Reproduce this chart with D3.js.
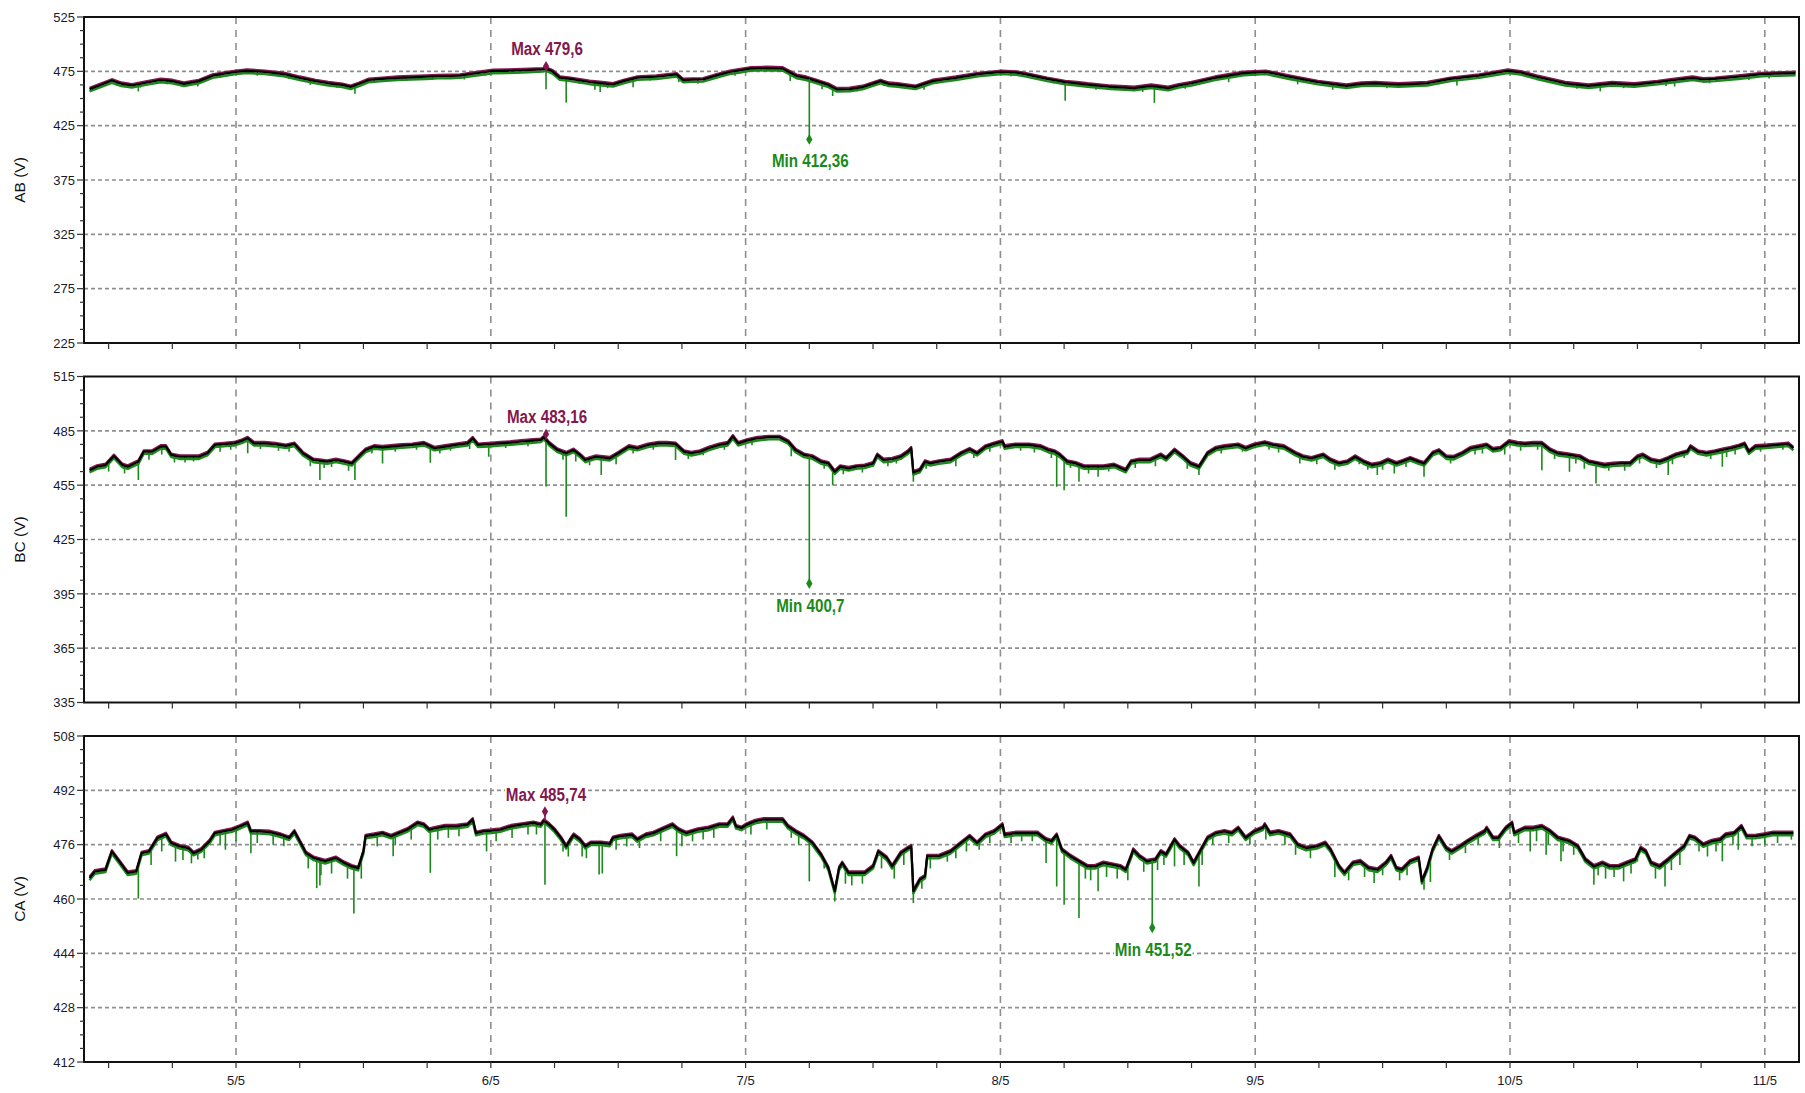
<!DOCTYPE html>
<html>
<head>
<meta charset="utf-8">
<script src="https://cdn.jsdelivr.net/npm/d3@7"></script>
<style>
  body { margin: 0; background: #fff; }
  svg { display: block; }
</style>
</head>
<body>
<svg id="chart" width="1805" height="1093"></svg>
<script>
// ---- Data: hours counted from 4 May 00:00, line-to-line voltages (V) ----

// Mean trace, AB
const abAvg = [
  [10.2,458.6],[11.0,461.5],[12.3,466.5],[13.2,463.5],[14.2,462.0],[15.5,464.5],[16.9,467.0],[18.0,466.0],
  [19.1,463.5],[20.5,466.0],[21.8,471.0],[23.0,473.0],[24.0,474.5],[25.0,475.5],[26.7,474.5],[28.5,472.5],
  [30.0,469.0],[31.5,466.0],[32.7,464.0],[34.0,462.5],[34.8,460.7],[35.6,463.5],[36.5,467.0],[37.8,468.0],
  [39.2,469.0],[40.5,469.5],[41.9,470.0],[43.0,470.5],[44.2,470.7],[45.1,471.0],[46.5,473.0],[48.2,475.3],
  [49.5,475.5],[51.0,476.0],[52.9,476.8],[53.2,477.5],[53.8,475.0],[54.5,469.2],[55.5,468.0],[57.3,465.2],
  [58.5,464.0],[59.5,463.0],[60.5,466.0],[61.8,469.2],[63.6,470.0],[65.5,472.2],[66.1,467.0],[67.0,467.3],
  [68.0,467.6],[69.2,471.0],[70.5,474.4],[71.5,476.0],[72.4,477.5],[74.0,478.0],[75.5,477.5],[76.8,470.7],
  [77.7,469.0],[78.7,466.0],[79.8,462.5],[80.6,458.4],[81.8,458.7],[83.0,460.5],[84.7,466.0],[85.5,463.5],
  [86.3,462.8],[88.0,460.7],[89.6,466.0],[90.7,467.5],[91.8,469.0],[93.9,472.4],[96.1,474.5],[97.5,473.8],
  [98.3,472.4],[100.4,468.0],[102.1,465.0],[103.2,464.0],[104.2,462.8],[106.4,460.7],[108.6,459.6],[110.2,461.7],
  [111.8,459.6],[112.8,462.0],[114.0,464.0],[116.2,469.0],[118.9,473.4],[121.0,474.5],[123.2,470.0],[125.9,465.0],
  [128.6,461.7],[130.0,463.5],[131.3,464.0],[133.5,462.8],[136.2,464.0],[138.4,468.0],[141.1,471.0],[143.8,475.5],
  [145.0,474.0],[146.5,470.0],[149.2,464.0],[151.4,461.7],[153.6,464.0],[155.7,462.8],[157.9,465.0],[159.5,467.0],
  [161.2,469.0],[162.2,467.5],[163.3,468.0],[165.5,470.0],[167.7,472.4],[169.0,472.8],[170.9,473.4]
];
// Drops of the minimum trace, AB
const abDips = [
  [12.8,461.5],[14.8,456.5],[15.0,460.0],[17.5,463.0],[20.4,461.0],[22.5,469.0],[26.0,471.0],[29.0,468.0],
  [31.0,462.5],[33.5,460.0],[35.2,454.4],[37.0,464.5],[40.0,466.0],[42.5,467.0],[45.5,467.5],[47.5,471.0],
  [50.0,472.5],[53.2,458.4],[55.1,446.2],[56.3,463.5],[57.8,458.0],[58.3,456.0],[59.0,459.5],[61.4,460.3],
  [63.0,466.5],[65.7,465.0],[67.5,463.5],[71.0,471.0],[73.5,475.0],[76.2,466.0],[79.2,458.5],[80.2,452.3],
  [82.5,456.5],[85.0,461.5],[87.8,458.6],[88.8,458.0],[93.0,468.5],[97.0,470.5],[101.0,464.0],[102.1,448.0],
  [105.0,458.0],[109.4,456.0],[110.5,446.0],[113.4,459.0],[117.5,465.0],[120.0,470.5],[124.0,463.0],[124.5,466.0],
  [127.3,458.0],[132.4,459.5],[137.3,463.0],[139.0,462.0],[142.5,471.0],[147.8,466.0],[150.3,459.0],[152.5,456.5],
  [154.7,459.5],[158.7,461.5],[159.5,461.0],[162.8,464.0],[166.5,467.0],[168.4,468.5]
];

// Mean trace, BC
const bcAvg = [
  [10.2,463.3],[10.9,465.2],[11.7,466.1],[12.5,471.1],[13.3,466.1],[13.8,465.2],[14.8,468.0],[15.3,473.5],
  [16.1,473.5],[16.9,476.3],[17.4,476.3],[17.9,471.7],[18.7,470.7],[19.7,470.7],[20.5,470.7],[21.3,472.6],
  [22.0,477.2],[23.1,477.8],[23.8,478.1],[24.6,479.6],[25.1,480.9],[25.7,478.1],[26.7,478.1],[27.7,477.6],
  [28.7,476.7],[29.5,477.8],[30.3,472.6],[31.3,468.9],[32.6,468.0],[33.4,468.9],[34.2,468.0],[34.9,467.0],
  [35.7,471.7],[36.2,474.4],[37.0,476.3],[37.8,475.9],[38.6,476.3],[39.3,476.7],[40.6,477.2],[41.7,478.1],
  [42.7,475.4],[43.7,476.3],[44.7,477.2],[45.8,478.1],[46.3,480.9],[46.8,477.2],[47.8,477.6],[48.9,478.1],
  [49.9,478.5],[50.9,479.1],[52.0,479.6],[52.7,480.0],[53.0,481.5],[53.5,478.1],[54.3,474.4],[55.1,472.6],
  [55.8,474.4],[56.4,471.7],[56.9,468.9],[57.9,470.7],[59.2,469.8],[60.0,472.6],[61.0,476.3],[61.8,475.4],
  [62.8,477.2],[63.8,478.1],[64.6,478.1],[65.4,477.8],[66.2,473.5],[66.9,472.6],[67.7,473.5],[68.5,475.4],
  [69.5,477.2],[70.3,478.1],[70.8,481.9],[71.3,478.1],[72.1,479.6],[73.1,480.9],[74.2,481.5],[75.2,481.5],
  [76.0,479.1],[76.7,474.4],[77.5,471.7],[78.3,470.7],[79.1,468.0],[79.8,467.0],[80.4,462.4],[80.9,465.2],
  [81.7,464.3],[82.4,465.2],[83.2,465.6],[84.0,467.0],[84.4,471.7],[85.0,468.9],[85.8,469.3],[86.6,470.7],
  [87.3,473.5],[87.6,475.4],[87.8,462.0],[88.4,463.3],[88.9,468.0],[89.4,467.0],[90.2,468.0],[91.3,468.9],
  [92.3,472.6],[93.1,474.8],[93.8,472.6],[94.6,476.3],[95.4,477.8],[96.2,479.1],[96.4,476.3],[97.4,477.2],
  [98.7,477.2],[99.8,476.3],[100.5,474.4],[101.1,473.5],[101.6,471.7],[102.3,468.0],[103.1,467.0],[103.9,465.2],
  [104.7,465.2],[105.7,465.2],[106.7,466.1],[107.8,463.3],[108.3,468.0],[109.1,468.9],[110.1,468.9],[111.1,471.7],
  [111.6,469.8],[112.4,474.4],[113.2,470.7],[113.9,467.0],[114.7,465.2],[115.5,472.6],[116.3,475.4],[117.1,476.3],
  [118.4,477.2],[119.1,475.4],[119.9,477.2],[120.9,478.5],[121.7,477.2],[122.7,476.3],[123.8,472.6],[124.5,470.7],
  [125.3,469.8],[126.4,471.7],[127.1,468.9],[127.9,467.0],[128.7,468.0],[129.4,470.7],[130.2,468.0],[131.0,466.1],
  [131.8,467.0],[132.5,468.9],[133.3,467.0],[133.8,468.0],[134.6,469.8],[135.4,468.0],[135.9,467.0],[136.7,472.6],
  [137.3,474.1],[138.0,470.7],[138.7,470.4],[139.5,472.6],[140.3,475.4],[141.1,476.3],[141.8,477.2],[142.4,474.8],
  [143.1,475.4],[143.9,479.1],[144.7,478.1],[145.4,477.8],[146.2,478.1],[147.0,478.1],[147.8,474.4],[148.5,472.6],
  [149.6,471.7],[150.6,470.7],[151.4,468.0],[152.2,467.0],[152.9,466.1],[153.7,466.7],[154.5,467.0],[155.3,467.0],
  [156.0,470.7],[156.5,471.7],[157.3,468.9],[158.1,468.0],[158.9,469.8],[159.6,471.7],[160.7,473.5],[161.0,476.3],
  [161.7,473.5],[162.5,472.6],[163.3,473.5],[164.0,474.4],[164.8,475.4],[165.6,476.7],[166.1,477.8],[166.5,473.5],
  [167.1,476.3],[168.2,476.7],[169.2,477.2],[170.2,477.8],[170.7,475.4]
];
// Drops of the minimum trace, BC
const bcDips = [
  [12.0,462.5],[13.5,461.5],[14.8,457.8],[15.8,469.0],[17.0,472.0],[18.2,467.5],[19.2,467.5],[20.0,468.0],
  [22.5,473.5],[23.5,474.5],[25.1,472.6],[26.3,475.0],[28.0,474.0],[29.0,473.5],[31.0,465.5],[31.9,457.8],
  [32.3,464.5],[33.0,465.0],[34.6,463.0],[35.2,457.8],[36.8,472.5],[37.8,467.0],[39.0,473.5],[41.0,474.5],
  [42.3,467.4],[43.2,472.5],[44.2,474.0],[46.0,475.0],[47.8,470.7],[49.4,475.5],[51.5,476.5],[53.2,454.3],
  [54.8,469.0],[55.1,437.6],[56.0,468.0],[57.3,466.0],[58.4,460.6],[59.8,466.5],[61.4,472.5],[63.3,474.5],
  [65.4,468.9],[66.6,469.5],[68.0,471.5],[70.0,474.5],[72.6,477.0],[76.3,471.0],[79.4,464.0],[80.2,455.0],
  [81.2,461.0],[83.0,462.0],[85.4,465.5],[86.2,467.0],[87.8,456.9],[89.0,464.0],[91.8,465.5],[93.5,470.0],
  [95.0,473.5],[97.9,474.0],[99.2,473.0],[100.8,470.0],[101.3,454.1],[102.0,452.2],[102.6,464.5],[103.4,456.9],
  [104.3,461.5],[105.2,459.6],[106.2,462.5],[108.7,464.5],[110.6,465.5],[112.0,470.0],[113.6,464.0],[114.7,460.6],
  [116.8,472.5],[118.8,473.5],[121.3,474.5],[122.2,473.0],[124.2,467.0],[125.8,466.5],[127.5,463.5],[129.8,466.5],
  [130.6,463.5],[131.5,460.6],[132.0,463.5],[133.1,461.5],[134.2,465.0],[135.9,459.6],[136.3,468.0],[138.4,467.0],
  [140.7,472.0],[141.4,472.5],[143.5,472.0],[145.0,474.0],[146.6,474.5],[147.0,463.3],[148.2,469.5],[149.6,462.4],
  [150.2,467.0],[151.0,464.0],[152.1,455.9],[153.3,463.0],[154.8,463.0],[156.2,467.0],[157.8,464.5],[158.9,460.6],
  [159.3,466.5],[160.4,470.0],[162.9,469.5],[164.0,465.2],[164.4,470.5],[165.2,472.0],[167.6,473.5],[169.7,474.5]
];

// Mean trace, CA
const caAvg = [
  [10.2,466.2],[10.7,468.1],[11.7,468.6],[12.3,474.0],[13.0,471.1],[13.8,467.7],[14.6,468.1],[15.1,473.5],
  [15.8,474.0],[16.6,478.0],[17.4,479.1],[17.9,476.5],[18.7,475.5],[19.5,475.0],[20.0,473.5],[20.7,474.5],
  [21.5,477.0],[22.0,479.4],[22.8,479.9],[23.6,480.4],[24.4,481.4],[25.1,482.4],[25.4,479.9],[26.2,479.9],
  [27.2,479.7],[28.2,478.9],[29.0,478.0],[29.5,479.9],[30.0,477.0],[30.6,473.5],[31.3,472.1],[32.4,471.1],
  [33.4,472.1],[34.2,470.6],[34.9,469.6],[35.5,469.1],[36.0,474.0],[36.2,478.5],[37.0,478.9],[37.8,479.4],
  [38.6,478.5],[39.3,479.4],[40.1,480.4],[41.1,482.4],[41.7,481.9],[42.2,480.4],[42.9,480.9],[43.7,481.4],
  [44.7,481.4],[45.8,481.9],[46.3,483.4],[46.6,479.4],[47.3,479.9],[48.1,480.1],[48.9,480.4],[49.9,481.4],
  [50.9,481.9],[52.0,482.4],[52.7,481.9],[53.0,483.1],[53.5,481.9],[54.0,480.4],[54.6,478.0],[55.1,475.5],
  [55.6,478.0],[55.8,478.9],[56.4,477.5],[56.9,475.5],[57.4,476.5],[58.4,476.5],[59.2,476.2],[59.5,478.0],
  [60.2,478.5],[61.3,478.9],[61.8,477.5],[62.6,478.9],[63.3,479.4],[64.4,480.9],[65.1,481.9],[65.7,480.4],
  [66.4,479.4],[67.5,480.4],[68.5,480.9],[69.5,481.9],[70.3,481.9],[70.8,483.9],[71.1,481.4],[71.6,480.9],
  [72.1,481.9],[72.9,482.9],[73.7,483.4],[74.7,483.4],[75.5,483.4],[76.0,481.4],[76.7,479.9],[77.5,478.5],
  [78.3,476.5],[79.1,473.1],[79.8,469.1],[80.4,462.3],[80.8,469.1],[81.1,470.6],[81.7,467.7],[82.4,467.7],
  [83.2,467.7],[84.0,469.6],[84.5,474.0],[85.3,472.1],[85.8,469.6],[86.6,473.5],[87.3,475.0],[87.6,475.5],
  [87.8,462.3],[88.4,465.7],[88.9,466.7],[89.1,472.6],[89.7,472.6],[90.2,472.6],[91.3,474.0],[92.3,476.5],
  [93.1,478.5],[93.8,476.5],[94.6,478.9],[95.4,479.9],[96.2,481.9],[96.4,478.9],[97.4,479.4],[98.5,479.4],
  [99.5,479.4],[100.3,477.5],[100.8,477.0],[101.3,478.9],[101.8,474.5],[102.6,472.6],[103.4,471.1],[104.2,469.6],
  [104.9,469.6],[105.7,470.6],[106.5,470.1],[107.3,469.6],[107.8,468.6],[108.3,472.6],[108.5,474.5],[109.1,472.6],
  [109.8,471.1],[110.6,471.6],[111.1,474.0],[111.6,473.1],[112.4,477.5],[112.9,475.5],[113.7,473.5],[114.2,470.6],
  [114.7,473.5],[115.5,478.0],[116.3,479.4],[117.1,479.9],[117.8,479.4],[118.4,480.9],[119.1,478.0],[119.9,479.9],
  [120.7,480.9],[120.9,481.9],[121.4,479.4],[122.2,479.9],[123.3,478.9],[124.0,476.0],[124.8,475.0],[125.8,475.5],
  [126.6,476.5],[127.1,474.5],[127.9,469.6],[128.4,467.7],[129.2,470.6],[129.9,471.1],[130.7,469.1],[131.5,468.6],
  [132.3,470.6],[132.8,472.6],[133.3,469.1],[133.8,468.6],[134.6,471.1],[135.4,472.1],[135.7,465.2],[136.2,469.1],
  [136.7,474.5],[137.3,478.5],[138.0,475.0],[138.5,474.0],[139.3,475.5],[140.0,477.0],[140.8,478.5],[141.6,479.9],
  [141.8,480.9],[142.4,478.0],[142.9,478.0],[143.6,480.9],[144.2,482.4],[144.4,479.4],[145.4,480.9],[146.2,480.9],
  [147.0,481.4],[147.8,479.9],[148.5,478.0],[149.6,477.0],[150.4,475.5],[151.1,471.6],[151.9,469.6],[152.7,470.6],
  [153.4,469.6],[154.2,469.6],[155.0,470.6],[155.8,471.6],[156.3,475.0],[156.8,474.0],[157.3,470.6],[158.1,469.6],
  [158.9,471.6],[159.6,473.5],[160.4,475.5],[160.9,478.5],[161.4,478.0],[162.2,476.0],[163.0,477.0],[163.8,477.5],
  [164.3,478.9],[165.1,479.4],[165.8,481.4],[166.3,478.5],[167.1,478.5],[167.9,478.9],[168.7,479.4],[169.7,479.4],
  [170.7,479.4]
];
// Drops of the minimum trace, CA
const caDips = [
  [14.8,460.1],[16.0,470.0],[17.0,474.0],[18.3,471.0],[19.0,471.5],[19.8,470.5],[20.4,471.6],[21.0,472.0],
  [22.5,476.0],[23.0,474.5],[24.0,477.0],[25.4,473.5],[26.0,476.5],[27.5,476.0],[28.5,475.5],[30.8,469.0],
  [31.6,463.2],[31.9,464.0],[32.0,467.0],[33.0,467.5],[34.5,466.0],[35.1,455.7],[35.8,466.0],[37.3,475.5],
  [38.8,472.6],[39.0,476.0],[40.5,477.5],[42.3,467.7],[43.0,477.5],[44.0,478.0],[45.0,478.5],[47.6,474.0],
  [48.5,477.0],[50.0,478.0],[51.5,479.0],[52.3,479.0],[53.1,464.2],[54.8,474.0],[55.3,472.5],[56.6,472.5],
  [57.0,472.0],[58.2,467.2],[58.5,467.5],[59.8,474.5],[60.8,475.5],[62.0,475.0],[64.0,477.0],[65.5,472.6],
  [66.0,475.5],[67.0,477.0],[68.0,477.5],[69.0,478.0],[72.5,479.0],[74.0,480.5],[76.3,478.0],[77.0,476.0],
  [78.0,465.2],[79.4,469.0],[80.4,459.3],[81.4,464.5],[82.0,464.0],[83.0,464.5],[84.8,469.0],[86.0,466.0],
  [86.9,470.0],[87.8,458.8],[88.6,463.0],[89.4,469.0],[91.0,471.0],[91.8,472.0],[92.8,474.0],[94.0,474.5],
  [95.0,476.5],[97.0,476.5],[98.0,477.0],[99.0,477.0],[100.3,470.6],[101.3,463.7],[102.0,458.3],[103.4,454.4],
  [104.0,466.0],[104.5,465.5],[105.2,462.3],[106.0,466.5],[107.0,466.0],[108.0,465.5],[109.5,468.0],[110.8,468.5],
  [111.4,470.0],[112.4,469.6],[113.3,470.0],[114.7,463.7],[115.0,470.0],[116.0,476.0],[117.5,476.5],[119.5,476.0],
  [121.0,477.5],[122.8,476.0],[123.8,473.0],[125.2,472.0],[127.5,466.5],[128.8,465.5],[130.3,466.5],[131.2,464.7],
  [132.0,467.0],[133.6,465.5],[134.3,467.0],[135.9,462.7],[136.5,465.0],[138.3,471.5],[139.8,473.5],[141.0,476.0],
  [143.0,475.0],[144.8,476.5],[145.9,474.0],[146.5,477.0],[147.4,473.0],[147.6,476.0],[148.8,471.1],[149.0,474.0],
  [150.0,473.0],[151.9,464.2],[152.3,467.0],[153.0,466.0],[153.8,466.5],[154.7,465.2],[155.4,467.5],[156.0,471.0],
  [157.7,466.0],[158.6,463.7],[159.2,468.5],[160.0,470.0],[161.8,474.0],[162.6,472.5],[163.4,474.0],[164.0,471.1],
  [165.0,476.0],[165.5,474.5],[166.8,475.5],[168.0,476.0],[169.2,476.5],[170.5,477.5]
];

// Recorded extremes (hour, volts)
const abExtremes = { max: [53.2, 479.6], min: [78.0, 412.36] };
const bcExtremes = { max: [53.2, 483.16], min: [78.0, 400.7] };
const caExtremes = { max: [53.1, 485.74], min: [110.3, 451.52] };

// Value-axis tick labels
const abTicks = [225, 275, 325, 375, 425, 475, 525];
const bcTicks = [335, 365, 395, 425, 455, 485, 515];
const caTicks = [412, 428, 444, 460, 476, 492, 508];

// Time axis extent (hours from 4 May 00:00)
const timeExtent = [9.68, 171.22];
const dateFormat = "%-d/%-m";

// ---- Layout ----
const plotLeft = 84, plotRight = 1799, plotHeight = 326;
const panelTops = [17, 376.5, 736];
const colMax = "#82184e", colMin = "#1b8a1b", colMean = "#000";

const base = Date.UTC(2021, 4, 4);
const toDate = h => new Date(base + h * 3600e3);

const svg = d3.select("#chart");
const x = d3.scaleUtc().domain(timeExtent.map(toDate)).range([plotLeft, plotRight]);

const panels = [
  { title: "AB (V)", ticks: abTicks, avg: abAvg, dips: abDips, ext: abExtremes },
  { title: "BC (V)", ticks: bcTicks, avg: bcAvg, dips: bcDips, ext: bcExtremes },
  { title: "CA (V)", ticks: caTicks, avg: caAvg, dips: caDips, ext: caExtremes }
];

const fmtVal = v => String(v).replace(".", ",");
const bis = d3.bisector(d => d[0]).left;
function meanAt(series, h) {
  const i = bis(series, h);
  if (i <= 0) return series[0][1];
  if (i >= series.length) return series[series.length - 1][1];
  const a = series[i - 1], b = series[i];
  return a[1] + (h - a[0]) / (b[0] - a[0]) * (b[1] - a[1]);
}

function label(g, cx, baseline, text, color) {
  const lg = g.append("g").attr("transform", `translate(${cx},${baseline}) scale(0.8,1)`);
  const bg = lg.append("rect").attr("fill", "#fff");
  const t = lg.append("text")
    .attr("text-anchor", "middle")
    .attr("font-family", "'Liberation Sans', Arial, sans-serif")
    .attr("font-weight", "bold")
    .attr("font-size", 19)
    .attr("fill", color)
    .text(text);
  const bb = t.node().getBBox();
  bg.attr("x", bb.x - 1).attr("y", bb.y + 2).attr("width", bb.width + 2).attr("height", bb.height - 4);
}

panels.forEach((p, idx) => {
  const top = panelTops[idx], bottom = top + plotHeight;
  const lo = p.ticks[0], hi = p.ticks[p.ticks.length - 1];
  const y = d3.scaleLinear().domain([lo, hi]).range([bottom, top]);
  const g = svg.append("g");

  const clipId = "clip" + idx;
  svg.append("clipPath").attr("id", clipId)
    .append("rect").attr("x", plotLeft).attr("y", top).attr("width", plotRight - plotLeft).attr("height", plotHeight);

  // horizontal grid
  g.append("g").selectAll("line").data(p.ticks.slice(1, -1)).join("line")
    .attr("x1", plotLeft).attr("x2", plotRight)
    .attr("y1", d => y(d)).attr("y2", d => y(d))
    .attr("stroke", "#8f8f8f").attr("stroke-width", 1.6).attr("stroke-dasharray", "4,3");

  // vertical grid at midnight
  const days = x.ticks(d3.utcDay.every(1));
  g.append("g").selectAll("line").data(days).join("line")
    .attr("x1", d => x(d)).attr("x2", d => x(d))
    .attr("y1", top).attr("y2", bottom)
    .attr("stroke", "#8f8f8f").attr("stroke-width", 1.6).attr("stroke-dasharray", "7,6");

  const plot = g.append("g").attr("clip-path", `url(#${clipId})`);
  const line = d3.line().x(d => x(toDate(d[0]))).y(d => y(d[1]));

  // min envelope
  plot.append("path").datum(p.avg).attr("d", line)
    .attr("transform", "translate(0,2.2)")
    .attr("fill", "none").attr("stroke", colMin).attr("stroke-width", 2.4).attr("stroke-linejoin", "round");
  plot.append("g").selectAll("line").data(p.dips).join("line")
    .attr("x1", d => x(toDate(d[0]))).attr("x2", d => x(toDate(d[0])))
    .attr("y1", d => y(meanAt(p.avg, d[0]))).attr("y2", d => y(d[1]))
    .attr("stroke", colMin).attr("stroke-width", 1.6);
  // max envelope
  plot.append("path").datum(p.avg).attr("d", line)
    .attr("transform", "translate(0,-1.5)")
    .attr("fill", "none").attr("stroke", colMax).attr("stroke-width", 2).attr("stroke-linejoin", "round");
  // mean
  plot.append("path").datum(p.avg).attr("d", line)
    .attr("fill", "none").attr("stroke", colMean).attr("stroke-width", 2.2).attr("stroke-linejoin", "round");

  // extremes
  const [mxH, mxV] = p.ext.max, [mnH, mnV] = p.ext.min;
  const mxX = x(toDate(mxH)), mnX = x(toDate(mnH));
  g.append("line").attr("x1", mxX).attr("x2", mxX)
    .attr("y1", y(meanAt(p.avg, mxH))).attr("y2", y(mxV))
    .attr("stroke", colMax).attr("stroke-width", 1.6);
  g.append("path").attr("d", d3.symbol(d3.symbolDiamond, 34)())
    .attr("transform", `translate(${mxX},${y(mxV)})`).attr("fill", colMax);
  g.append("line").attr("x1", mnX).attr("x2", mnX)
    .attr("y1", y(meanAt(p.avg, mnH))).attr("y2", y(mnV))
    .attr("stroke", colMin).attr("stroke-width", 1.6);
  g.append("path").attr("d", d3.symbol(d3.symbolDiamond, 34)())
    .attr("transform", `translate(${mnX},${y(mnV)})`).attr("fill", colMin);
  label(g, mxX + 1, y(mxV) - 11, "Max " + fmtVal(mxV), colMax);
  label(g, mnX + 1, y(mnV) + 28, "Min " + fmtVal(mnV), colMin);

  // frame
  g.append("rect").attr("x", plotLeft).attr("y", top)
    .attr("width", plotRight - plotLeft).attr("height", plotHeight)
    .attr("fill", "none").attr("stroke", "#111").attr("stroke-width", 2);

  // value axis
  const step = p.ticks[1] - p.ticks[0];
  const minor = d3.range(lo, hi + 1e-9, step / 4);
  g.append("g").selectAll("line").data(minor).join("line")
    .attr("x1", d => (Math.abs((d - lo) % step) < 1e-6 ? plotLeft - 7 : plotLeft - 4)).attr("x2", plotLeft)
    .attr("y1", d => y(d)).attr("y2", d => y(d))
    .attr("stroke", "#333").attr("stroke-width", 1.2);
  g.append("g").selectAll("text").data(p.ticks).join("text")
    .attr("x", plotLeft - 9).attr("y", d => y(d)).attr("dy", "0.36em")
    .attr("text-anchor", "end")
    .attr("font-family", "'Liberation Sans', Arial, sans-serif").attr("font-size", 13)
    .attr("fill", "#1a1a2a")
    .text(d => d);
  g.append("text")
    .attr("transform", `translate(20,${(top + bottom) / 2}) rotate(-90)`)
    .attr("text-anchor", "middle").attr("dy", "0.35em")
    .attr("font-family", "'Liberation Sans', Arial, sans-serif").attr("font-size", 15.5)
    .attr("fill", "#111")
    .text(p.title);

  // time ticks every 6 h
  const hours = x.ticks(d3.utcHour.every(6));
  g.append("g").selectAll("line").data(hours).join("line")
    .attr("x1", d => x(d)).attr("x2", d => x(d))
    .attr("y1", bottom).attr("y2", bottom + 6)
    .attr("stroke", "#333").attr("stroke-width", 1.2);

  if (idx === panels.length - 1) {
    g.append("g").selectAll("text").data(days).join("text")
      .attr("x", d => x(d)).attr("y", bottom + 23)
      .attr("text-anchor", "middle")
      .attr("font-family", "'Liberation Sans', Arial, sans-serif").attr("font-size", 13)
      .attr("fill", "#1a1a2a")
      .text(d3.utcFormat(dateFormat));
  }
});
</script>
</body>
</html>
